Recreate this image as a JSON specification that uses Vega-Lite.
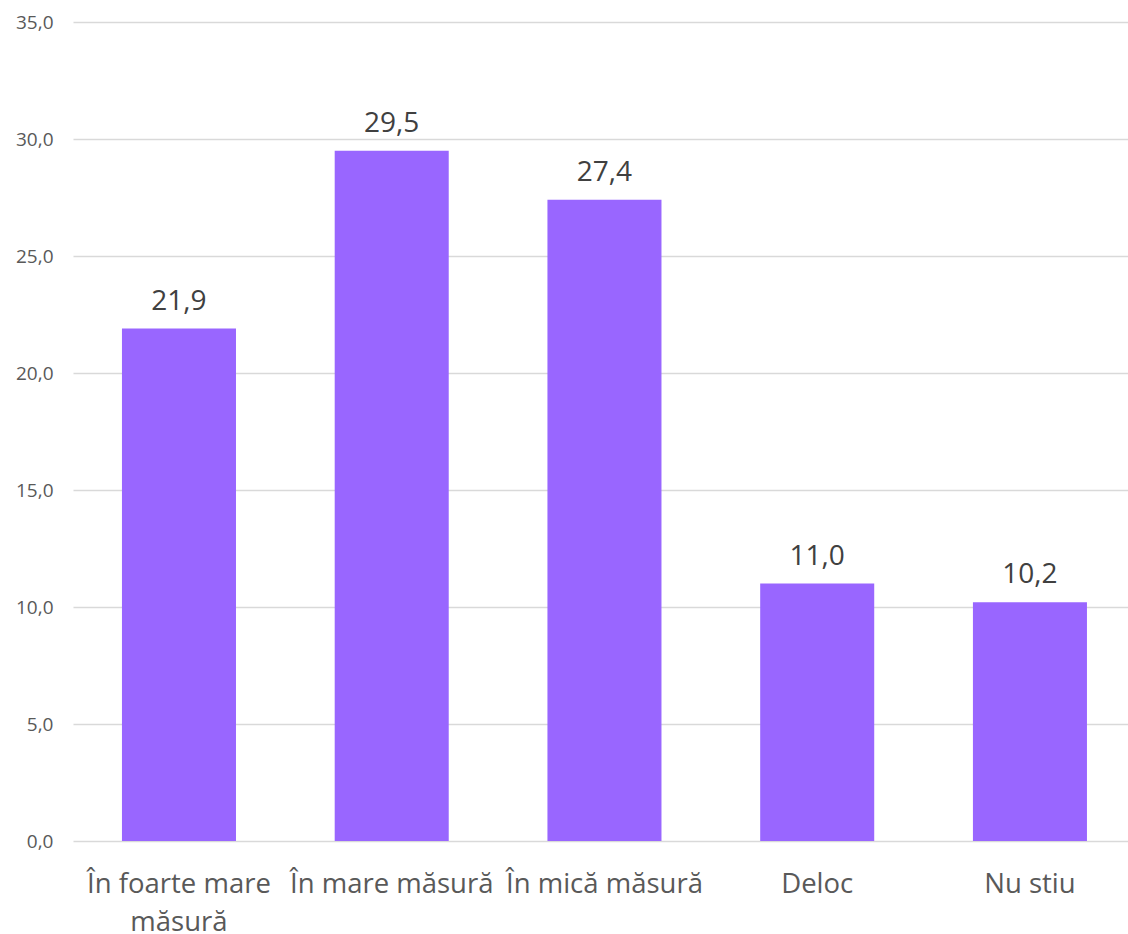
{
  "$schema": "https://vega.github.io/schema/vega-lite/v6.json",
  "width": 1055,
  "height": 819,
  "autosize": {"type": "none"},
  "padding": {"left": 73, "top": 22, "right": 0, "bottom": 93},
  "background": "white",
  "config": {
    "view": {"stroke": null},
    "locale": {"number": {"decimal": ",", "thousands": ".", "grouping": [3], "currency": ["", " €"]}},
    "font": "Open Sans"
  },
  "data": {
    "values": [
      {"categorie": "În foarte mare măsură", "valoare": 21.9},
      {"categorie": "În mare măsură", "valoare": 29.5},
      {"categorie": "În mică măsură", "valoare": 27.4},
      {"categorie": "Deloc", "valoare": 11.0},
      {"categorie": "Nu stiu", "valoare": 10.2}
    ]
  },
  "encoding": {
    "x": {
      "field": "categorie",
      "type": "nominal",
      "sort": null,
      "scale": {"paddingInner": 0.464, "paddingOuter": 0.2115, "align": 0.544},
      "axis": {
        "title": null,
        "labelAngle": 0,
        "ticks": false,
        "domain": false,
        "labelFont": "Open Sans",
        "labelFontSize": 27.5,
        "labelColor": "#595959",
        "labelPadding": 29,
        "labelLineHeight": 38,
        "labelLimit": 300,
        "labelExpr": "datum.label == 'În foarte mare măsură' ? ['În foarte mare', 'măsură'] : datum.label"
      }
    },
    "y": {
      "field": "valoare",
      "type": "quantitative",
      "scale": {"domain": [0, 35], "nice": false},
      "axis": {
        "title": null,
        "values": [0, 5, 10, 15, 20, 25, 30, 35],
        "format": ".1f",
        "ticks": false,
        "domain": false,
        "gridColor": "#d9d9d9",
        "gridWidth": 1.5,
        "labelFont": "Open Sans",
        "labelFontSize": 19,
        "labelColor": "#595959",
        "labelPadding": 20
      }
    }
  },
  "layer": [
    {"mark": {"type": "bar", "color": "#9966ff"}},
    {
      "mark": {"type": "text", "baseline": "alphabetic", "dy": -19, "fontSize": 28, "color": "#404040", "font": "Open Sans"},
      "encoding": {"text": {"field": "valoare", "type": "quantitative", "format": ".1f"}}
    }
  ]
}
